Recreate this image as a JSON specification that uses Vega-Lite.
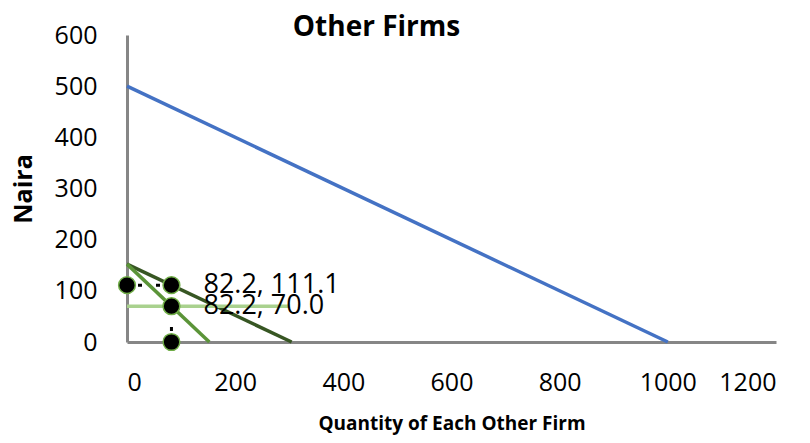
{
  "$schema": "https://vega.github.io/schema/vega-lite/v6.json",
  "width": 649,
  "height": 307,
  "autosize": {"type": "none"},
  "padding": {"left": 127, "top": 35, "right": 34, "bottom": 101},
  "background": "white",
  "title": {
    "text": "Other Firms",
    "font": "Open Sans",
    "fontSize": 28,
    "fontWeight": "bold",
    "color": "black",
    "anchor": "middle",
    "frame": "group",
    "dx": -75,
    "offset": -41,
    "baseline": "alphabetic"
  },
  "datasets": {
    "lines": [
      {"series": "Demand", "x": 0, "y": 500},
      {"series": "Demand", "x": 1000, "y": 0},
      {"series": "Residual Demand", "x": 0, "y": 152.2},
      {"series": "Residual Demand", "x": 304.4, "y": 0},
      {"series": "Marginal Revenue", "x": 0, "y": 152.2},
      {"series": "Marginal Revenue", "x": 152.2, "y": 0},
      {"series": "Marginal Cost", "x": 0, "y": 70},
      {"series": "Marginal Cost", "x": 300, "y": 70}
    ],
    "dashes": [
      {"seg": "h", "x": 0, "y": 111.1},
      {"seg": "h", "x": 82.2, "y": 111.1},
      {"seg": "v", "x": 82.2, "y": 0},
      {"seg": "v", "x": 82.2, "y": 70}
    ],
    "points": [
      {"x": 0, "y": 111.1, "label": ""},
      {"x": 82.2, "y": 111.1, "label": "82.2, 111.1"},
      {"x": 82.2, "y": 70, "label": "82.2, 70.0"},
      {"x": 82.2, "y": 0, "label": ""}
    ]
  },
  "config": {
    "view": {"stroke": null},
    "font": "Open Sans",
    "axis": {
      "domainColor": "#868686",
      "domainWidth": 3,
      "ticks": false,
      "grid": false,
      "labelFont": "Open Sans",
      "labelFontSize": 25,
      "labelColor": "black",
      "titleFont": "Open Sans",
      "titleFontWeight": "bold",
      "titleColor": "black"
    }
  },
  "layer": [
    {
      "data": {"name": "lines"},
      "mark": {"type": "line", "strokeWidth": 3.5},
      "encoding": {
        "x": {
          "field": "x", "type": "quantitative",
          "scale": {"domain": [0, 1200], "nice": false},
          "axis": {"values": [0, 200, 400, 600, 800, 1000, 1200], "format": "d", "labelPadding": 28, "title": "Quantity of Each Other Firm", "titleFontSize": 19, "titlePadding": 19}
        },
        "y": {
          "field": "y", "type": "quantitative",
          "scale": {"domain": [0, 600], "nice": false},
          "axis": {"values": [0, 100, 200, 300, 400, 500, 600], "format": "d", "labelPadding": 30, "title": "Naira", "titleFontSize": 25, "titlePadding": 18}
        },
        "color": {
          "field": "series", "type": "nominal",
          "scale": {
            "domain": ["Demand", "Residual Demand", "Marginal Revenue", "Marginal Cost"],
            "range": ["#4472C4", "#375623", "#5B9438", "#A9D18E"]
          },
          "legend": null
        },
        "order": {"field": "x", "type": "quantitative"}
      }
    },
    {
      "data": {"name": "dashes"},
      "mark": {"type": "line", "strokeWidth": 3, "strokeDash": [4, 14], "strokeDashOffset": 7, "color": "black"},
      "encoding": {
        "x": {"field": "x", "type": "quantitative"},
        "y": {"field": "y", "type": "quantitative"},
        "detail": {"field": "seg", "type": "nominal"},
        "order": {"field": "y", "type": "quantitative"}
      }
    },
    {
      "data": {"name": "points"},
      "mark": {"type": "point", "filled": true, "size": 280, "fill": "black", "stroke": "#70AD47", "strokeWidth": 1.5, "opacity": 1, "shape": "circle"},
      "encoding": {
        "x": {"field": "x", "type": "quantitative"},
        "y": {"field": "y", "type": "quantitative"}
      }
    },
    {
      "data": {"name": "points"},
      "mark": {"type": "text", "align": "left", "baseline": "middle", "dx": 32, "fontSize": 27, "font": "Open Sans", "color": "black"},
      "encoding": {
        "x": {"field": "x", "type": "quantitative"},
        "y": {"field": "y", "type": "quantitative"},
        "text": {"field": "label"}
      }
    }
  ]
}
